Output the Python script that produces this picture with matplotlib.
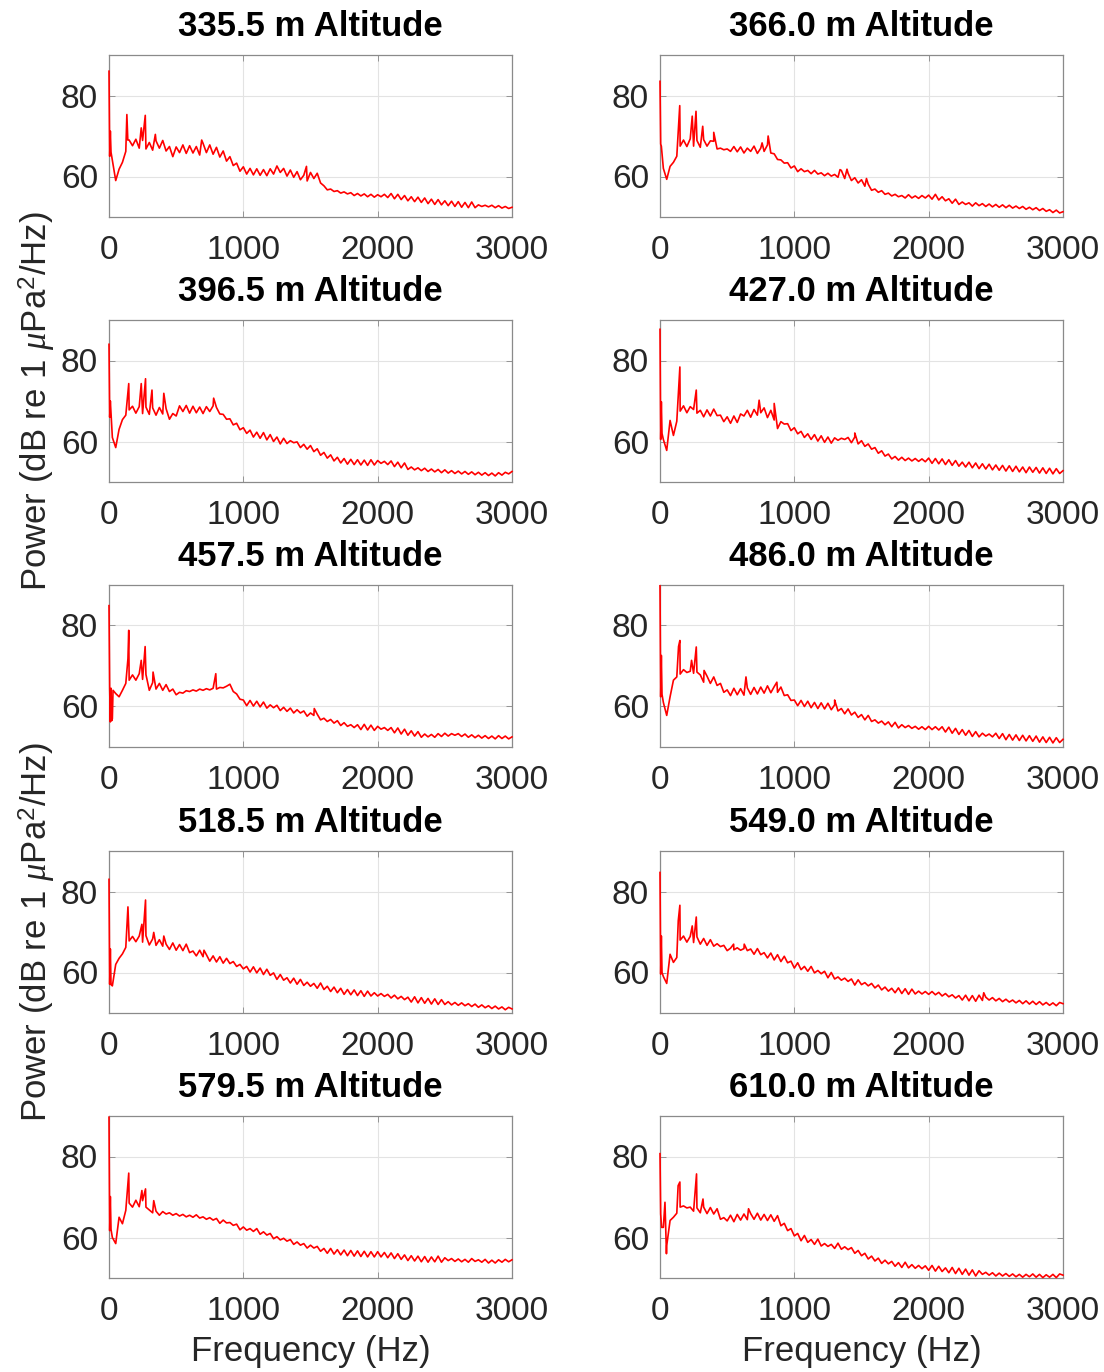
import matplotlib.pyplot as plt
import numpy as np

plt.rcParams['font.family'] = ['Liberation Sans', 'DejaVu Sans']
plt.rcParams['mathtext.fontset'] = 'custom'
plt.rcParams['mathtext.rm'] = 'Liberation Sans'
plt.rcParams['mathtext.it'] = 'Liberation Serif:italic'

# spectra on a 25 Hz grid, 0..3000 Hz
freq_grid = np.arange(0, 3001, 25)

titles = ['335.5 m Altitude', '366.0 m Altitude', '396.5 m Altitude', '427.0 m Altitude',
          '457.5 m Altitude', '486.0 m Altitude', '518.5 m Altitude', '549.0 m Altitude',
          '579.5 m Altitude', '610.0 m Altitude']

xticks = [0, 1000, 2000, 3000]
yticks = [60, 80]

lvl_335 = [86.0, 64.0, 59.0, 61.8, 63.5, 66.2, 69.0, 67.6, 69.2, 67.0, 68.9, 66.8, 68.4, 66.5, 68.8, 67.0, 68.9, 66.3, 67.4, 64.9,
           67.3, 65.9, 67.8, 65.7, 67.6, 65.8, 67.4, 65.3, 68.2, 65.9, 67.8, 65.5, 67.2, 64.8, 66.3, 63.8, 64.9, 62.7, 63.3, 61.3,
           62.4, 60.6, 62.0, 60.4, 61.9, 60.3, 61.7, 60.2, 61.9, 60.6, 62.6, 61.0, 62.0, 60.1, 61.6, 59.8, 61.2, 59.2, 60.3, 58.9,
           61.0, 59.5, 60.8, 58.4, 57.7, 56.7, 56.9, 56.3, 56.5, 55.9, 56.2, 55.7, 56.0, 55.3, 55.8, 55.2, 55.7, 55.0, 55.6, 54.9,
           55.5, 55.0, 55.6, 54.8, 55.8, 54.5, 55.6, 54.3, 55.3, 54.0, 55.0, 53.8, 54.9, 53.6, 54.7, 53.3, 54.4, 53.1, 54.3, 53.0,
           54.0, 52.8, 53.9, 52.6, 53.8, 52.4, 53.6, 52.3, 53.7, 52.3, 53.0, 52.6, 52.9, 52.5, 52.9, 52.3, 52.8, 52.2, 52.6, 52.1,
           52.4]
spk_f_335 = [5, 10, 15, 133, 140, 240, 270, 345, 690, 1470]
spk_p_335 = [65.0, 71.2, 66.0, 75.3, 69.0, 72.0, 75.1, 70.4, 69.0, 62.5]

lvl_366 = [83.5, 62.0, 59.3, 62.5, 63.5, 65.0, 67.5, 69.0, 67.4, 69.3, 67.5, 68.9, 67.2, 69.1, 67.5, 68.8, 68.7, 66.8, 67.0, 66.6,
           66.8, 66.2, 67.4, 66.1, 67.3, 65.8, 67.0, 66.2, 67.5, 65.7, 67.0, 66.2, 67.8, 65.8, 65.6, 64.2, 64.1, 63.3, 63.4, 62.1,
           62.6, 61.2, 61.9, 61.2, 61.5, 60.7, 61.5, 60.6, 60.9, 60.2, 60.8, 60.1, 60.5, 59.8, 61.5, 59.5, 60.8, 59.0, 59.7, 58.4,
           59.2, 57.6, 58.1, 56.6, 56.9, 56.1, 56.5, 55.6, 55.9, 55.2, 55.6, 55.0, 55.3, 54.7, 55.5, 54.7, 55.2, 54.6, 55.3, 54.7,
           55.4, 54.4, 55.6, 54.2, 55.0, 54.0, 54.5, 53.4, 54.4, 53.1, 53.7, 53.1, 53.5, 52.7, 53.5, 52.8, 53.3, 52.6, 53.2, 52.5,
           53.1, 52.4, 53.0, 52.3, 52.9, 52.2, 52.7, 52.1, 52.6, 51.9, 52.4, 51.8, 52.3, 51.6, 52.1, 51.4, 51.8, 51.1, 51.7, 51.0,
           51.3]
spk_f_366 = [5, 10, 147, 240, 268, 318, 400, 760, 805, 1340, 1392, 1537]
spk_p_366 = [68.0, 67.5, 77.5, 74.9, 76.1, 72.4, 70.9, 68.3, 70.0, 61.7, 61.8, 59.5]

lvl_396 = [84.0, 61.0, 58.5, 63.0, 65.4, 66.5, 67.8, 68.7, 67.0, 68.6, 66.9, 68.5, 66.7, 68.3, 66.5, 68.4, 66.8, 68.1, 65.5, 66.9,
           66.3, 68.8, 67.4, 68.9, 67.0, 68.7, 67.1, 68.5, 66.9, 68.6, 67.4, 68.8, 68.4, 66.8, 66.7, 65.5, 65.6, 64.1, 64.5, 62.9,
           63.4, 62.0, 62.8, 61.1, 62.3, 60.8, 62.2, 60.4, 61.7, 60.0, 61.1, 59.4, 60.8, 59.5, 60.2, 59.7, 59.9, 58.5, 59.3, 58.1,
           59.0, 57.5, 58.2, 56.6, 57.3, 55.9, 56.7, 55.2, 56.1, 54.7, 55.8, 54.4, 55.6, 54.3, 55.5, 54.2, 55.4, 54.1, 55.5, 54.2,
           55.3, 54.6, 55.1, 54.3, 55.2, 53.8, 54.9, 53.5, 54.7, 53.1, 53.7, 53.0, 53.5, 52.8, 53.4, 52.6, 53.2, 52.5, 53.1, 52.3,
           53.0, 52.2, 52.8, 52.1, 52.7, 52.0, 52.6, 51.9, 52.5, 51.8, 52.4, 51.7, 52.3, 51.6, 52.2, 51.5, 52.3, 51.7, 52.4, 52.0,
           52.6]
spk_f_396 = [5, 10, 147, 240, 272, 320, 408, 779]
spk_p_396 = [66.0, 70.0, 74.3, 74.3, 75.5, 72.7, 71.9, 70.7]

lvl_427 = [87.7, 60.5, 57.8, 65.2, 61.5, 65.0, 67.5, 68.8, 67.1, 68.6, 67.9, 67.0, 67.7, 66.1, 67.8, 66.3, 68.0, 66.4, 66.5, 64.9,
           66.1, 64.5, 66.3, 64.7, 66.8, 66.3, 67.7, 66.0, 67.9, 66.5, 67.1, 68.3, 65.9, 67.7, 65.3, 63.2, 64.9, 64.3, 64.4, 62.7,
           63.4, 61.9, 62.5, 61.0, 61.9, 60.5, 61.7, 60.1, 61.4, 59.8, 61.1, 59.6, 60.9, 60.3, 60.8, 60.5, 61.0, 59.7, 61.1, 59.4,
           60.2, 58.8, 59.4, 58.1, 58.5, 57.1, 57.7, 56.4, 56.9, 55.7, 56.3, 55.4, 56.1, 55.3, 55.9, 55.2, 55.8, 55.1, 55.7, 55.0,
           55.9, 54.6, 55.8, 54.5, 55.7, 54.3, 55.5, 54.1, 55.3, 53.9, 54.9, 53.7, 54.9, 53.5, 54.7, 53.3, 54.5, 53.2, 54.4, 53.0,
           54.2, 52.9, 54.1, 52.7, 54.0, 52.6, 53.9, 52.5, 53.7, 52.3, 53.7, 52.4, 53.6, 52.2, 53.5, 52.1, 53.4, 52.0, 53.3, 52.1,
           52.8]
spk_f_427 = [5, 10, 15, 148, 270, 738, 850, 1450]
spk_p_427 = [60.5, 69.8, 62.0, 78.4, 72.7, 70.2, 69.4, 62.1]

lvl_457 = [84.9, 57.0, 63.2, 62.4, 64.0, 65.7, 66.5, 67.8, 66.5, 68.1, 66.7, 67.9, 64.0, 65.9, 64.3, 65.7, 64.0, 65.4, 63.7, 64.3,
           62.9, 63.5, 63.3, 63.9, 63.7, 64.1, 63.8, 64.3, 64.0, 64.4, 64.1, 64.5, 64.3, 64.7, 64.6, 65.0, 65.5, 63.7, 63.1, 61.8,
           61.6, 60.2, 61.5, 60.1, 61.3, 59.9, 61.1, 59.6, 60.4, 59.7, 60.3, 59.0, 59.8, 58.8, 59.6, 58.4, 59.2, 58.4, 58.9, 57.6,
           58.4, 57.8, 58.1, 56.7, 57.1, 56.3, 56.8, 55.9, 56.5, 55.3, 56.0, 55.1, 55.5, 54.8, 55.5, 54.3, 55.6, 54.2, 55.4, 54.1,
           55.1, 54.4, 54.8, 54.1, 54.8, 53.5, 54.7, 53.2, 54.4, 52.9, 54.0, 52.7, 53.8, 52.4, 53.2, 52.5, 53.1, 52.4, 53.3, 52.6,
           53.4, 52.7, 53.3, 52.9, 53.3, 52.6, 53.2, 52.4, 53.0, 52.3, 52.9, 52.2, 52.8, 52.1, 52.7, 52.0, 52.8, 52.1, 52.7, 52.0,
           52.5]
spk_f_457 = [5, 10, 15, 20, 30, 141, 147, 240, 269, 328, 795, 1528]
spk_p_457 = [64.4, 56.2, 64.5, 56.5, 64.0, 71.8, 78.8, 71.4, 74.8, 68.5, 68.1, 59.5]

lvl_486 = [89.8, 61.0, 57.8, 62.4, 66.5, 67.3, 68.0, 69.1, 68.4, 68.7, 68.2, 68.5, 67.8, 66.0, 67.5, 65.7, 67.3, 65.2, 65.7, 63.5,
           64.1, 62.7, 64.5, 62.9, 64.4, 62.8, 64.6, 63.0, 64.7, 63.1, 64.8, 63.3, 65.1, 63.4, 64.9, 63.5, 64.8, 62.7, 62.9, 61.5,
           61.6, 60.2, 61.5, 60.0, 61.3, 59.7, 61.0, 59.5, 60.9, 59.4, 60.8, 59.2, 60.4, 58.9, 59.5, 58.2, 59.4, 57.9, 58.6, 57.3,
           58.0, 56.7, 57.8, 56.3, 56.7, 55.9, 56.4, 55.5, 56.2, 55.0, 56.1, 54.7, 55.5, 54.8, 55.3, 54.6, 55.1, 54.4, 55.0, 54.3,
           55.1, 54.3, 55.0, 54.2, 55.0, 53.7, 54.9, 53.4, 54.6, 53.1, 54.3, 52.9, 54.1, 52.6, 53.8, 52.5, 53.4, 52.7, 53.2, 52.5,
           53.4, 52.1, 53.3, 51.8, 53.1, 51.7, 53.0, 51.6, 52.9, 51.5, 52.8, 51.4, 52.7, 51.2, 52.5, 51.1, 52.4, 51.0, 52.3, 51.1,
           51.9]
spk_f_486 = [5, 10, 15, 138, 148, 235, 270, 328, 640, 870, 1300]
spk_p_486 = [62.4, 72.6, 63.0, 74.8, 76.3, 71.4, 74.7, 68.9, 67.3, 66.0, 61.6]

lvl_518 = [83.0, 56.7, 62.0, 63.5, 64.6, 66.2, 67.8, 68.9, 67.6, 69.0, 67.5, 69.1, 66.8, 68.3, 66.7, 68.1, 66.5, 67.0, 65.7, 67.3,
           65.5, 66.9, 65.4, 67.0, 64.9, 65.3, 64.1, 65.5, 63.9, 64.4, 62.8, 64.1, 62.6, 63.9, 62.3, 63.5, 62.2, 62.7, 61.5, 62.0,
           60.9, 61.5, 60.1, 61.4, 59.9, 61.1, 59.5, 60.8, 59.3, 59.9, 58.3, 59.5, 58.1, 58.7, 57.4, 58.6, 57.1, 58.3, 56.8, 57.6,
           56.6, 57.3, 56.1, 57.4, 55.8, 56.6, 55.3, 56.4, 55.0, 56.1, 54.6, 55.8, 54.5, 55.7, 54.3, 55.5, 54.1, 55.4, 54.2, 55.0,
           54.2, 54.8, 54.1, 54.6, 53.7, 54.4, 53.5, 54.1, 53.3, 53.9, 52.7, 54.0, 52.5, 53.8, 52.4, 53.6, 52.2, 53.5, 52.1, 53.3,
           52.1, 52.8, 52.0, 52.6, 51.9, 52.5, 51.8, 52.3, 51.6, 52.2, 51.4, 52.0, 51.3, 51.8, 51.1, 51.7, 51.0, 51.5, 50.8, 51.4,
           51.0]
spk_f_518 = [5, 10, 15, 141, 245, 272, 333, 408, 707]
spk_p_518 = [57.1, 65.8, 57.0, 76.2, 71.9, 77.9, 69.9, 69.0, 65.5]

lvl_549 = [84.7, 59.0, 57.3, 64.5, 62.5, 63.7, 68.0, 69.0, 67.5, 68.9, 67.4, 68.8, 67.0, 68.4, 66.7, 68.1, 66.5, 67.1, 66.4, 66.7,
           65.4, 66.0, 65.6, 66.1, 65.5, 65.9, 65.4, 65.8, 64.5, 65.9, 64.4, 64.9, 63.6, 64.8, 63.1, 64.4, 62.7, 64.0, 62.4, 62.8,
           61.1, 62.4, 60.7, 61.5, 60.3, 61.5, 59.9, 60.5, 59.7, 60.3, 58.7, 60.0, 58.4, 58.9, 58.1, 58.6, 57.8, 58.4, 56.9, 58.2,
           57.0, 57.5, 56.7, 57.3, 56.2, 56.9, 55.7, 56.4, 55.4, 56.1, 55.0, 56.2, 54.8, 56.0, 54.6, 55.9, 54.7, 55.4, 54.7, 55.3,
           54.6, 55.3, 54.5, 55.1, 54.2, 54.8, 54.0, 54.5, 53.7, 54.3, 53.2, 54.4, 53.0, 54.3, 52.9, 54.4, 53.1, 53.9, 53.2, 53.8,
           53.0, 53.6, 52.8, 53.4, 52.7, 53.2, 52.5, 53.1, 52.3, 53.0, 52.2, 52.9, 52.1, 52.8, 52.0, 52.6, 51.9, 52.5, 51.8, 52.6,
           52.3]
spk_f_549 = [5, 10, 15, 136, 148, 240, 270, 548, 627, 2410]
spk_p_549 = [59.6, 69.0, 60.0, 72.8, 76.6, 71.5, 73.7, 67.0, 67.0, 55.0]

lvl_579 = [89.7, 60.0, 58.5, 65.0, 63.4, 66.7, 68.5, 67.5, 69.2, 67.6, 69.1, 67.5, 66.8, 66.1, 66.5, 65.5, 66.4, 65.8, 66.1, 65.5,
           65.9, 65.3, 65.7, 65.1, 65.5, 65.0, 65.6, 64.8, 65.1, 64.5, 64.9, 64.3, 64.7, 63.5, 64.3, 63.6, 63.7, 63.0, 63.3, 61.9,
           62.6, 61.8, 62.2, 61.5, 62.2, 60.8, 61.4, 60.6, 61.0, 59.7, 60.2, 59.4, 59.8, 59.1, 59.5, 58.3, 58.9, 58.1, 58.5, 57.4,
           58.1, 57.4, 57.8, 56.6, 57.3, 56.1, 57.3, 55.9, 57.0, 55.7, 56.9, 55.5, 56.8, 55.4, 56.7, 55.3, 56.6, 55.2, 56.5, 55.2,
           56.5, 55.2, 56.3, 55.0, 56.2, 54.8, 56.0, 54.6, 55.7, 54.3, 55.5, 54.2, 55.4, 54.0, 55.3, 53.9, 55.2, 54.0, 55.4, 53.9,
           55.0, 54.3, 54.8, 54.1, 54.7, 54.0, 54.6, 53.9, 54.8, 54.1, 54.5, 53.9, 54.6, 53.7, 54.4, 53.7, 54.5, 53.9, 54.6, 54.0,
           54.5]
spk_f_579 = [5, 10, 15, 147, 245, 272, 333]
spk_p_579 = [61.7, 70.1, 62.0, 75.9, 71.6, 72.0, 69.1]

lvl_610 = [80.7, 62.5, 58.0, 64.2, 65.0, 66.0, 67.5, 67.8, 67.3, 67.5, 66.5, 67.3, 66.1, 67.5, 65.9, 67.4, 65.8, 67.1, 64.5, 64.9,
           64.1, 65.5, 63.9, 65.7, 64.3, 65.8, 64.4, 65.9, 64.5, 66.0, 64.3, 65.7, 64.2, 65.6, 64.0, 65.4, 62.9, 63.5, 61.7, 62.2,
           60.4, 61.0, 59.2, 60.5, 58.8, 59.5, 58.3, 59.6, 57.9, 58.5, 57.8, 58.3, 57.3, 58.6, 57.1, 57.7, 57.0, 57.5, 56.1, 56.8,
           55.5, 56.1, 54.7, 55.4, 54.2, 54.9, 53.6, 54.4, 53.5, 54.1, 52.9, 53.8, 52.6, 53.9, 52.5, 53.3, 52.4, 53.1, 52.3, 53.0,
           51.9, 53.1, 51.7, 52.9, 51.6, 52.5, 51.3, 52.6, 51.1, 52.4, 50.9, 52.2, 50.7, 52.0, 50.5, 51.8, 50.9, 51.4, 50.7, 51.3,
           50.5, 51.2, 50.5, 51.1, 50.4, 51.0, 50.3, 50.9, 50.2, 50.9, 50.3, 51.0, 50.2, 50.9, 50.1, 50.8, 50.2, 50.9, 50.1, 51.0,
           50.7]
spk_f_610 = [5, 12, 24, 37, 48, 135, 148, 272, 320, 659]
spk_p_610 = [65.8, 62.5, 62.5, 68.7, 56.0, 72.8, 73.7, 75.7, 69.5, 67.1]

levels = [lvl_335, lvl_366, lvl_396, lvl_427, lvl_457, lvl_486, lvl_518, lvl_549, lvl_579, lvl_610]
spk_f = [spk_f_335, spk_f_366, spk_f_396, spk_f_427, spk_f_457, spk_f_486, spk_f_518, spk_f_549, spk_f_579, spk_f_610]
spk_p = [spk_p_335, spk_p_366, spk_p_396, spk_p_427, spk_p_457, spk_p_486, spk_p_518, spk_p_549, spk_p_579, spk_p_610]

ylab = r'Power (dB re 1 $\mu$Pa$^2$/Hz)'
tick_col = '#262626'

fig = plt.figure(figsize=(11.04, 13.72), dpi=100)

lefts = [109 / 1104, 660 / 1104]
width = 403 / 1104
height = 162 / 1372
tops = [55, 320, 585, 851, 1116]

for i in range(10):
    row, col = divmod(i, 2)
    bottom = 1 - (tops[row] + 162) / 1372
    ax = fig.add_axes([lefts[col], bottom, width, height])

    f = np.concatenate([freq_grid, spk_f[i]])
    p = np.concatenate([levels[i], spk_p[i]])
    order = np.argsort(f, kind='stable')
    # not clipped, so the 0 Hz spike shows over the left spine as in the original
    ax.plot(f[order], p[order], color='red', lw=1.2, zorder=3, clip_on=False)

    ax.set_xlim(0, 3000)
    ax.set_ylim(50, 90)
    ax.set_xticks(xticks)
    ax.set_yticks(yticks)
    ax.grid(True, color='#e3e3e3', lw=0.8)
    ax.set_axisbelow(True)
    ax.tick_params(direction='in', length=4, width=0.6, labelsize=24, colors='#888888',
                   labelcolor=tick_col, top=True, right=True)
    ax.tick_params(axis='x', pad=13)
    ax.tick_params(axis='y', pad=8)
    for s in ax.spines.values():
        s.set_color('#8a8a8a')
        s.set_linewidth(0.9)
    ax.set_title(titles[i], fontsize=25, fontweight='bold', pad=13.5)

    if col == 0 and row in (1, 3):
        ax.set_ylabel(ylab, fontsize=25, color=tick_col)
        ax.yaxis.set_label_coords(-0.127, 0.5)
    if row == 4:
        ax.set_xlabel('Frequency (Hz)', fontsize=25, color=tick_col, labelpad=6)

fig.savefig('out.png', dpi=100)
